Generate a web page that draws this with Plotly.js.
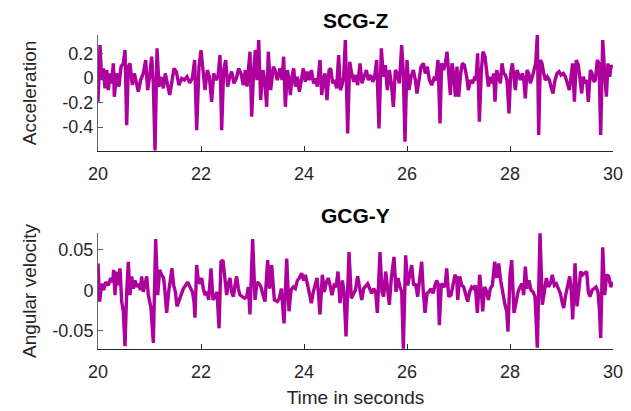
<!DOCTYPE html>
<html><head><meta charset="utf-8">
<script src="https://cdn.plot.ly/plotly-3.0.1.min.js"></script>
<style>html,body{margin:0;padding:0;background:#fff}#chart{width:631px;height:411px}</style>
</head><body><div id="chart"></div>
<script>
// SCG-Z (acceleration) samples
const scgTime = [20.000,20.039,20.071,20.104,20.136,20.168,20.201,20.233,20.265,20.298,20.317,20.362,20.408,20.447,20.492,20.524,20.557,20.589,20.621,20.667,20.706,20.744,20.783,20.828,20.880,20.926,20.964,21.003,21.042,21.074,21.107,21.146,21.184,21.223,21.269,21.307,21.346,21.392,21.430,21.476,21.521,21.573,21.625,21.676,21.728,21.780,21.832,21.877,21.916,21.961,22.000,22.039,22.078,22.123,22.162,22.207,22.246,22.291,22.330,22.369,22.401,22.440,22.479,22.518,22.557,22.595,22.641,22.686,22.731,22.777,22.822,22.861,22.893,22.951,22.984,23.023,23.055,23.087,23.120,23.159,23.204,23.243,23.275,23.307,23.353,23.405,
23.437,23.482,23.534,23.573,23.605,23.638,23.677,23.709,23.735,23.767,23.800,23.832,23.871,23.910,23.948,23.987,24.026,24.065,24.104,24.143,24.188,24.227,24.259,24.311,24.343,24.376,24.408,24.447,24.486,24.518,24.557,24.596,24.634,24.673,24.706,24.738,24.770,24.803,24.848,24.887,24.926,24.965,25.003,25.042,25.088,25.126,25.165,25.211,25.249,25.295,25.333,25.372,25.411,25.456,25.502,25.541,25.580,25.618,25.657,25.696,25.735,25.774,25.812,25.851,25.897,25.929,25.961,26.000,26.039,26.078,26.123,26.162,26.194,26.233,26.272,26.317,26.356,26.395,26.434,26.479,26.524,
26.563,26.602,26.641,26.673,26.712,26.745,26.777,26.816,26.842,26.874,26.906,26.939,26.971,27.004,27.042,27.075,27.114,27.159,27.191,27.230,27.269,27.308,27.340,27.372,27.405,27.444,27.476,27.515,27.547,27.580,27.618,27.651,27.683,27.709,27.741,27.780,27.813,27.845,27.877,27.910,27.942,27.981,28.013,28.046,28.078,28.104,28.136,28.169,28.201,28.240,28.266,28.298,28.330,28.363,28.395,28.434,28.466,28.499,28.531,28.557,28.589,28.622,28.654,28.686,28.725,28.764,28.796,28.835,28.874,28.913,28.952,28.991,29.036,29.075,29.114,29.152,29.185,29.217,29.250,29.288,29.327,29.360,29.392,29.424,29.457,29.489,29.521,29.560,29.593,29.625,29.657,29.696,29.728,29.761,29.800,29.839,29.871,29.903,29.936,29.961,30.000];
const scgValue = [-0.194,0.268,-0.017,0.078,-0.085,0.064,-0.099,0.037,-0.044,0.119,-0.153,0.037,-0.071,0.092,0.119,0.227,-0.384,0.092,0.119,-0.058,0.037,-0.044,-0.112,-0.017,0.037,0.146,-0.099,0.010,0.173,-0.044,-0.590,0.241,-0.071,0.010,-0.085,0.037,-0.044,-0.139,-0.044,0.078,0.051,-0.058,-0.004,-0.017,0.010,-0.039,-0.004,0.146,-0.425,0.092,0.227,0.037,-0.099,0.064,0.010,-0.194,0.037,-0.017,0.010,0.187,-0.425,0.064,0.146,-0.071,0.010,0.051,-0.044,-0.004,0.078,0.037,-0.058,0.064,-0.071,0.214,-0.316,0.064,0.227,-0.017,0.309,-0.180,0.064,-0.044,-0.235,0.214,-0.099,0.092,
0.064,-0.017,0.078,-0.017,0.173,-0.235,0.064,-0.017,-0.139,0.010,0.078,-0.071,0.010,-0.112,-0.017,0.078,-0.031,0.051,-0.017,0.064,-0.044,-0.004,-0.071,0.146,-0.139,-0.017,0.037,-0.180,0.064,0.078,-0.044,-0.017,-0.085,0.187,-0.099,-0.058,0.010,0.309,-0.452,0.132,0.037,-0.031,0.024,-0.058,0.119,-0.044,0.010,0.064,-0.017,0.024,-0.031,0.010,0.146,-0.411,0.241,0.010,0.105,-0.099,0.064,-0.044,-0.235,0.064,0.037,-0.044,0.268,0.037,-0.520,0.146,-0.099,0.010,0.064,-0.017,-0.126,0.010,0.092,0.119,0.037,0.092,-0.017,-0.058,-0.004,
-0.017,0.146,-0.370,0.119,0.064,0.119,0.214,-0.017,-0.139,0.119,0.037,-0.153,0.092,-0.153,0.037,0.119,0.105,0.010,-0.099,-0.017,-0.044,-0.004,-0.017,0.200,-0.357,0.064,0.214,0.173,0.037,-0.071,0.010,-0.044,0.037,-0.194,0.064,-0.004,-0.044,0.119,0.037,0.024,-0.017,-0.289,0.037,0.119,-0.017,-0.099,0.064,0.010,-0.017,0.037,-0.004,-0.167,0.064,0.037,-0.044,0.010,0.064,0.119,0.350,-0.465,0.146,0.119,0.037,-0.017,0.010,-0.017,-0.071,-0.126,-0.017,0.037,0.051,0.024,0.037,0.010,-0.044,-0.099,0.010,0.119,-0.194,0.146,0.105,-0.017,-0.126,0.010,-0.044,-0.017,-0.194,0.064,0.037,-0.031,-0.017,0.146,0.119,-0.465,0.309,0.037,-0.153,0.119,0.010,0.092,0.100];

// GCG-Y (angular velocity) samples
const gcgTime = [20.000,20.032,20.071,20.110,20.149,20.201,20.246,20.285,20.304,20.330,20.362,20.395,20.427,20.460,20.492,20.524,20.557,20.589,20.621,20.654,20.686,20.718,20.757,20.790,20.822,20.848,20.880,20.913,20.945,20.977,21.029,21.074,21.120,21.159,21.197,21.236,21.275,21.301,21.333,21.372,21.405,21.437,21.469,21.502,21.534,21.573,21.612,21.657,21.702,21.741,21.786,21.832,21.864,21.883,21.916,21.948,21.981,22.013,22.045,22.078,22.117,22.149,22.194,22.233,22.272,22.311,22.350,22.388,22.427,22.466,22.498,22.531,22.563,22.595,22.628,22.660,22.692,22.725,22.757,22.803,22.848,22.887,22.919,22.951,23.003,23.049,23.087,23.126,23.165,23.204,23.243,23.294,23.333,23.372,23.424,
23.482,23.521,23.560,23.612,23.664,23.709,23.748,23.793,23.832,23.871,23.910,23.955,23.994,24.026,24.065,24.104,24.143,24.181,24.214,24.253,24.278,24.311,24.356,24.395,24.434,24.473,24.512,24.544,24.583,24.622,24.660,24.699,24.745,24.777,24.816,24.874,24.919,24.958,24.997,25.042,25.081,25.120,25.159,25.198,25.236,25.275,25.314,25.353,25.392,25.424,25.476,25.515,25.547,25.586,25.625,25.657,25.696,25.748,25.787,25.825,25.864,25.897,25.929,25.974,26.013,26.052,26.091,26.129,26.168,26.207,26.246,26.285,26.317,26.350,26.388,26.427,26.466,26.505,26.544,
26.576,26.602,26.628,26.667,26.706,26.738,26.771,26.809,26.855,26.894,26.932,26.965,26.984,27.023,27.062,27.101,27.139,27.178,27.217,27.256,27.295,27.327,27.366,27.411,27.444,27.470,27.508,27.547,27.580,27.618,27.657,27.703,27.741,27.780,27.819,27.864,27.903,27.936,27.961,28.000,28.033,28.078,28.117,28.156,28.195,28.233,28.266,28.298,28.330,28.369,28.408,28.447,28.486,28.531,28.583,28.628,28.667,28.706,28.745,28.784,28.822,28.861,28.900,28.939,28.978,29.017,29.043,29.081,29.120,29.159,29.191,29.217,29.263,29.301,29.340,29.372,29.411,29.450,29.489,29.521,29.554,29.593,29.631,29.670,29.709,29.735,29.761,29.800,29.839,29.878,29.917,29.955,30.000];
const gcgValue = [0.033,-0.014,0.008,0.000,0.010,0.006,0.015,0.010,0.025,-0.006,0.023,0.006,0.027,-0.014,-0.026,-0.069,-0.002,0.035,-0.006,0.017,0.002,0.012,0.004,0.008,0.000,0.017,-0.002,0.008,0.017,-0.006,-0.022,-0.065,0.063,-0.006,0.025,0.019,0.015,-0.002,-0.028,-0.002,0.015,0.027,0.006,-0.002,-0.020,-0.012,-0.006,0.002,0.006,0.010,0.004,-0.002,-0.014,-0.034,0.031,0.012,0.008,0.015,0.002,-0.006,-0.002,-0.012,0.027,-0.012,-0.008,-0.002,-0.047,0.035,0.037,0.008,-0.006,0.008,0.015,-0.002,-0.008,0.006,0.017,0.002,-0.006,-0.008,-0.010,-0.008,0.004,-0.030,0.063,-0.012,0.010,0.008,0.004,-0.006,-0.014,0.037,0.002,0.031,-0.012,
-0.014,-0.010,0.002,-0.041,0.039,-0.026,0.000,0.004,0.002,0.012,0.015,0.021,0.012,0.019,0.008,-0.002,-0.016,-0.002,0.008,0.015,-0.002,-0.030,0.019,-0.002,0.010,0.015,0.004,-0.006,0.006,0.004,0.023,-0.016,0.012,-0.002,-0.057,0.047,-0.010,-0.004,0.000,0.017,0.002,-0.012,0.002,0.006,0.008,0.002,-0.004,0.002,-0.002,-0.028,0.047,-0.002,-0.008,0.023,-0.002,-0.018,0.015,0.041,-0.002,0.015,0.004,-0.002,-0.072,0.043,0.006,0.019,0.031,0.006,0.008,-0.008,0.019,0.035,-0.002,-0.028,-0.004,-0.002,0.002,-0.004,0.006,
0.012,0.008,-0.043,0.008,0.006,0.004,0.027,-0.008,-0.006,0.008,0.019,0.015,-0.012,0.017,0.006,0.004,-0.006,-0.014,-0.002,0.004,0.002,0.006,-0.028,0.019,-0.002,-0.026,0.004,-0.002,-0.012,0.002,0.006,0.035,0.015,0.033,0.012,-0.006,-0.018,-0.026,-0.051,0.019,0.037,-0.028,-0.014,-0.002,0.004,0.008,-0.006,0.029,0.002,0.012,0.000,-0.002,-0.008,-0.071,0.070,-0.018,-0.002,0.015,0.004,0.008,0.019,0.006,0.008,0.002,-0.004,-0.016,-0.022,-0.006,0.004,0.017,-0.002,-0.036,0.033,-0.020,0.002,0.023,0.019,0.021,0.023,-0.002,-0.008,0.000,0.002,0.004,-0.002,-0.022,-0.059,0.053,-0.006,0.019,0.017,0.004,0.010];

const xTicks = [20, 22, 24, 26, 28, 30];
const scgTickVals = [-0.4, -0.2, 0, 0.2];
const scgTickText = ['-0.4', '-0.2', '0', '0.2'];
const gcgTickVals = [-0.05, 0, 0.05];
const gcgTickText = ['-0.05', '0', '0.05'];

const lineColor = '#AD009D';
const axisColor = '#262626';
const font = 'Liberation Sans, Arial, Helvetica, sans-serif';

const traces = [
  {x: scgTime, y: scgValue, type: 'scatter', mode: 'lines', xaxis: 'x', yaxis: 'y',
   line: {color: lineColor, width: 3.4}, hoverinfo: 'skip'},
  {x: gcgTime, y: gcgValue, type: 'scatter', mode: 'lines', xaxis: 'x2', yaxis: 'y2',
   line: {color: lineColor, width: 3.4}, hoverinfo: 'skip'}
];

function xAxis(anchor, title) {
  return {
    domain: [98/631, 613/631], anchor: anchor, range: [20, 30],
    tickvals: xTicks, ticks: 'inside', ticklen: 5, tickcolor: axisColor,
    ticklabelstandoff: 6,
    showgrid: false, zeroline: false, showline: true, linecolor: axisColor, linewidth: 1,
    tickfont: {family: font, size: 18, color: axisColor},
    title: title ? {text: title, font: {family: font, size: 19, color: axisColor}, standoff: 10} : undefined,
    mirror: false
  };
}
function yAxis(anchor, dom, rng, tv, tt, title, standoff) {
  return {
    domain: dom, anchor: anchor, range: rng,
    tickvals: tv, ticktext: tt, ticks: 'inside', ticklen: 5, tickcolor: '#555',
    showgrid: false, zeroline: false, showline: true, linecolor: '#666', linewidth: 1,
    tickfont: {family: font, size: 18, color: axisColor},
    title: {text: title, font: {family: font, size: 19, color: axisColor}, standoff: standoff}
  };
}

const layout = {
  width: 631, height: 411,
  margin: {l: 0, r: 0, t: 0, b: 0},
  paper_bgcolor: '#fff', plot_bgcolor: '#fff',
  showlegend: false,
  font: {family: font, color: axisColor},
  xaxis: xAxis('y', null),
  yaxis: yAxis('x', [1 - 151/411, 1 - 35/411], [-0.595, 0.35], scgTickVals, scgTickText, 'Acceleration', 20),
  xaxis2: xAxis('y2', 'Time in seconds'),
  yaxis2: yAxis('x2', [1 - 349/411, 1 - 233/411], [-0.0725, 0.0705], gcgTickVals, gcgTickText, 'Angular velocity', 10),
  annotations: [
    {text: '<b>SCG-Z</b>', xref: 'paper', yref: 'paper', x: 355.5/631, y: 1 - 20/411,
     xanchor: 'center', yanchor: 'middle', showarrow: false, font: {family: font, size: 21, color: '#000'}},
    {text: '<b>GCG-Y</b>', xref: 'paper', yref: 'paper', x: 355.5/631, y: 1 - 215/411,
     xanchor: 'center', yanchor: 'middle', showarrow: false, font: {family: font, size: 21, color: '#000'}}
  ]
};

Plotly.newPlot('chart', traces, layout, {staticPlot: true, displayModeBar: false});
</script></body></html>
